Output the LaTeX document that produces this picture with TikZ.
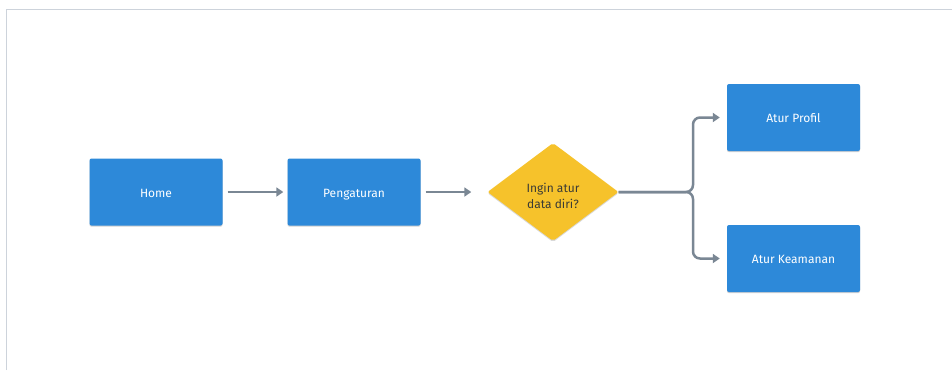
\documentclass[tikz,border=0pt]{standalone}
\usepackage{fontspec}
\setmainfont{Fira Sans}
\usetikzlibrary{arrows.meta,shapes.geometric,shadows}
\definecolor{boxblue}{HTML}{2D89D9}
\definecolor{dyellow}{HTML}{F6C22B}
\definecolor{arrgray}{HTML}{7A8794}
\definecolor{framegray}{HTML}{CDD3DB}
\definecolor{dtext}{HTML}{3B3B35}
\tikzset{
  x=1pt, y=-1pt,
  procbox/.style={rectangle, rounded corners=2pt, fill=boxblue, text=white,
    minimum width=133pt, minimum height=67pt, inner sep=0pt,
    text height=10.5pt, text depth=0pt,
    font=\fontsize{12}{14}\selectfont,
    drop shadow={shadow xshift=0pt, shadow yshift=-1.2pt, opacity=0.18, fill=black}},
  decbox/.style={diamond, fill=dyellow, rounded corners=2pt,
    minimum width=131pt, minimum height=98pt, inner sep=0pt, aspect=1.34,
    drop shadow={shadow xshift=0pt, shadow yshift=-1.2pt, opacity=0.15, fill=black}},
  dectextstyle/.style={text=dtext, align=center, inner sep=0pt,
    font=\fontsize{12}{16}\selectfont},
  conn/.style={draw=arrgray, line width=2.5pt,
    -{Triangle[length=7pt,width=9pt]}},
  frameline/.style={draw=framegray, line width=1.5pt}
}
\begin{document}
\begin{tikzpicture}
\useasboundingbox (0,0) rectangle (952,370);
\fill[white] (0,0) rectangle (952,370);
\coordinate (fa) at (6.5,370);
\coordinate (fb) at (6.5,9.5);
\coordinate (fc) at (952,9.5);
\draw[frameline] (fa) -- (fb) -- (fc);

\node[procbox] (home) at (156,192) {Home};
\node[procbox] (peng) at (354,192) {Pengaturan};
\node[decbox] (dec) at (553,192) {};
\node[dectextstyle, anchor=center] (dectext) at (553,195.5) {Ingin atur\\data diri?};
\node[procbox] (prof) at (793.5,117.5) {Atur Profil};
\node[procbox] (keam) at (793.5,258.5) {Atur Keamanan};

\draw[conn, shorten <=5pt, shorten >=4pt] (home) -- (peng);
\draw[conn, shorten <=5pt, shorten >=16pt] (peng) -- (dec);
\draw[conn, rounded corners=7pt, shorten >=7pt] (dec.east) -- (693,192) |- (prof.west);
\draw[conn, rounded corners=7pt, shorten >=7pt] (dec.east) -- (693,192) |- (keam.west);
\end{tikzpicture}
\end{document}
